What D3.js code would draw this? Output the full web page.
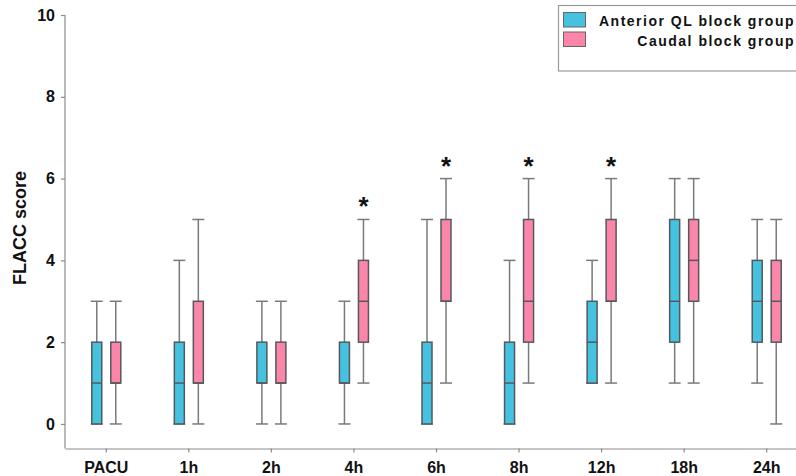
<!DOCTYPE html>
<html>
<head>
<meta charset="utf-8">
<script src="https://cdn.jsdelivr.net/npm/d3@7"></script>
<style>
  body { margin: 0; background: #fff; }
  svg { display: block; font-family: "Liberation Sans", Arial, sans-serif; }
</style>
</head>
<body>
<div id="chart"></div>
<script>
var times = ['PACU', '1h', '2h', '4h', '6h', '8h', '12h', '18h', '24h']
var groups = ['Anterior QL block group', 'Caudal block group']
var groupColors = ['#45c2e0', '#fb86aa']

// [min, q1, median, q3, max]
var qlStats = [
  [0, 0, 1, 2, 3],
  [0, 0, 1, 2, 4],
  [0, 1, 1, 2, 3],
  [0, 1, 1, 2, 3],
  [0, 0, 1, 2, 5],
  [0, 0, 1, 2, 4],
  [1, 1, 2, 3, 4],
  [1, 2, 3, 5, 6],
  [1, 2, 3, 4, 5]
]
var caudalStats = [
  [0, 1, 1, 2, 3],
  [0, 1, 1, 3, 5],
  [0, 1, 1, 2, 3],
  [1, 2, 3, 4, 5],
  [1, 3, 3, 5, 6],
  [1, 2, 3, 5, 6],
  [1, 3, 3, 5, 6],
  [1, 3, 4, 5, 6],
  [0, 2, 3, 4, 5]
]
var significant = ['4h', '6h', '8h', '12h']
var yTicks = [0, 2, 4, 6, 8, 10]

var width = 796, height = 476
var svg = d3.select('#chart').append('svg')
  .attr('width', width)
  .attr('height', height)

var x = d3.scaleBand()
  .domain(times)
  .range([65, 808])

var y = d3.scaleLinear()
  .domain([-0.6, 10])
  .range([448.5, 15])

var offset = 9.5
var boxW = 10

// axes
var yAxis = svg.append('g')
  .attr('transform', 'translate(65,0)')
  .call(d3.axisLeft(y).tickValues(yTicks).tickSize(4).tickSizeOuter(0).tickPadding(6))
var xAxis = svg.append('g')
  .attr('transform', 'translate(0,448.5)')
  .call(d3.axisBottom(x).tickSize(4).tickSizeOuter(0).tickPadding(9))

;[yAxis, xAxis].forEach(function (g) {
  g.select('.domain').attr('stroke', '#8c8c8c').attr('stroke-width', 1.2)
  g.selectAll('.tick line').attr('stroke', '#8c8c8c').attr('stroke-width', 1.2)
  g.selectAll('text')
    .attr('fill', '#111')
    .attr('font-size', 16)
    .attr('font-weight', 'bold')
    .attr('font-family', '"Liberation Sans", Arial, sans-serif')
})
// y domain should run from the x axis to 10
yAxis.select('.domain').attr('d', 'M0,' + y(10) + 'V' + y(-0.6))

svg.append('text')
  .attr('transform', 'translate(26,' + 228 + ') rotate(-90)')
  .attr('text-anchor', 'middle')
  .attr('font-size', 18)
  .attr('font-weight', 'bold')
  .attr('fill', '#111')
  .text('FLACC score')

// boxes
function drawBoxes(stats, gi, dx) {
  var g = svg.append('g')
  stats.forEach(function (s, i) {
    var cx = x(times[i]) + x.bandwidth() / 2 + dx
    var wc = '#7a7a7a'
    // whiskers
    g.append('line').attr('x1', cx).attr('x2', cx)
      .attr('y1', y(s[4])).attr('y2', y(s[3]))
      .attr('stroke', wc).attr('stroke-width', 1.5)
    g.append('line').attr('x1', cx).attr('x2', cx)
      .attr('y1', y(s[1])).attr('y2', y(s[0]))
      .attr('stroke', wc).attr('stroke-width', 1.5)
    ;[s[0], s[4]].forEach(function (v) {
      g.append('line')
        .attr('x1', cx - boxW / 2 - 1).attr('x2', cx + boxW / 2 + 1)
        .attr('y1', y(v)).attr('y2', y(v))
        .attr('stroke', wc).attr('stroke-width', 1.5)
    })
    g.append('rect')
      .attr('x', cx - boxW / 2)
      .attr('y', y(s[3]))
      .attr('width', boxW)
      .attr('height', y(s[1]) - y(s[3]))
      .attr('fill', groupColors[gi])
      .attr('stroke', '#55595c')
      .attr('stroke-width', 1.5)
    g.append('line')
      .attr('x1', cx - boxW / 2).attr('x2', cx + boxW / 2)
      .attr('y1', y(s[2])).attr('y2', y(s[2]))
      .attr('stroke', '#55595c').attr('stroke-width', 1.5)
  })
}
drawBoxes(qlStats, 0, -offset)
drawBoxes(caudalStats, 1, offset)

// significance marks
significant.forEach(function (t) {
  var i = times.indexOf(t)
  svg.append('text')
    .attr('x', x(t) + x.bandwidth() / 2 + offset)
    .attr('y', y(caudalStats[i][4]) - 4)
    .attr('text-anchor', 'middle')
    .attr('font-size', 26)
    .attr('font-weight', 'bold')
    .attr('fill', '#111')
    .text('*')
})

// legend
var legend = svg.append('g')
legend.append('rect')
  .attr('x', 558.5).attr('y', 5.5)
  .attr('width', 260).attr('height', 65.5)
  .attr('fill', '#fff')
  .attr('stroke', '#9a9a9a')
  .attr('stroke-width', 1.2)
groups.forEach(function (name, i) {
  legend.append('rect')
    .attr('x', 563.5).attr('y', 12.5 + i * 19.5)
    .attr('width', 22).attr('height', 14.5)
    .attr('fill', groupColors[i])
    .attr('stroke', '#666')
    .attr('stroke-width', 1)
  legend.append('text')
    .attr('x', 795)
    .attr('y', 26 + i * 19.5)
    .attr('text-anchor', 'end')
    .attr('font-size', 14)
    .attr('font-weight', 'bold')
    .attr('letter-spacing', 1.5)
    .attr('fill', '#111')
    .text(name)
})
</script>
</body>
</html>
